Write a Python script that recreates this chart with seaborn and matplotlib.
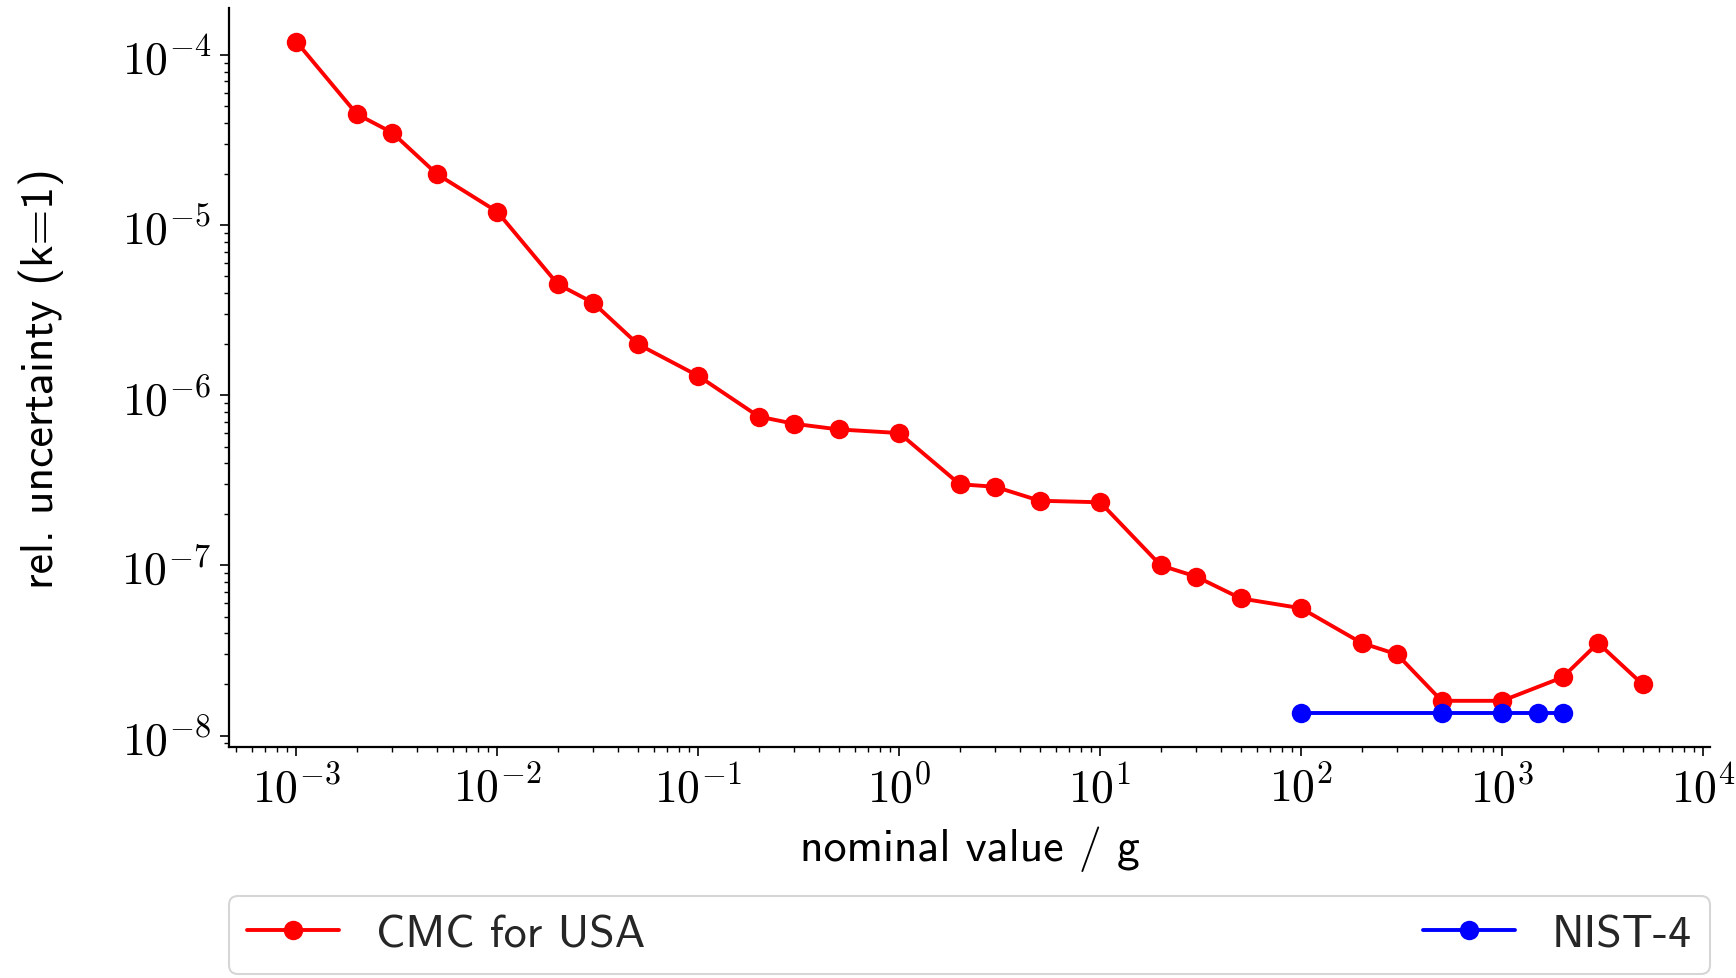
import matplotlib
matplotlib.use("Agg")
import matplotlib.pyplot as plt
import matplotlib.ticker as mticker
import seaborn as sns
import pandas as pd
import numpy as np

# --- data ---
cmc_mass = [1e-3, 2e-3, 3e-3, 5e-3, 1e-2, 2e-2, 3e-2, 5e-2, 0.1, 0.2, 0.3, 0.5,
            1, 2, 3, 5, 10, 20, 30, 50, 100, 200, 300, 500, 1000, 2000, 3000, 5000]
cmc_unc = [1.2e-4, 4.5e-5, 3.5e-5, 2.0e-5, 1.2e-5, 4.5e-6, 3.5e-6, 2.0e-6, 1.3e-6,
           7.5e-7, 6.8e-7, 6.3e-7, 6.0e-7, 3.0e-7, 2.9e-7, 2.4e-7, 2.35e-7, 1.0e-7,
           8.6e-8, 6.4e-8, 5.6e-8, 3.5e-8, 3.0e-8, 1.6e-8, 1.6e-8, 2.2e-8, 3.5e-8, 2.0e-8]
nist_mass = [100, 500, 1000, 1500, 2000]
nist_unc = [1.35e-8, 1.35e-8, 1.35e-8, 1.35e-8, 1.35e-8]
series_labels = ["CMC for USA", "NIST-4"]
x_label = "nominal value / g"
y_label = "rel. uncertainty (k=1)"

sns.set_theme(style="ticks")
plt.rcParams["font.family"] = ["cmss10", "DejaVu Sans"]
plt.rcParams["mathtext.fontset"] = "cm"
plt.rcParams["mathtext.default"] = "rm"

fig = plt.figure(figsize=(17.36, 9.79), dpi=100)
ax = fig.add_axes([0.1319, 0.236, 0.985 - 0.1319, 0.9908 - 0.236])

df_cmc = pd.DataFrame({"m": cmc_mass, "u": cmc_unc})
df_nist = pd.DataFrame({"m": nist_mass, "u": nist_unc})

sns.lineplot(data=df_cmc, x="m", y="u", ax=ax, color="red", marker="o",
             markersize=14, markeredgewidth=0, linewidth=2.8, label=series_labels[0])
sns.lineplot(data=df_nist, x="m", y="u", ax=ax, color="blue", marker="o",
             markersize=14, markeredgewidth=0, linewidth=2.8, label=series_labels[1])

ax.set_xscale("log")
ax.set_yscale("log")
ax.margins(0.05)


def pow_fmt(v, pos):
    if v <= 0:
        return ""
    e = np.log10(v)
    if abs(e - round(e)) > 1e-6:
        return ""
    return r"$10^{%d}$" % int(round(e))


ax.xaxis.set_major_formatter(mticker.FuncFormatter(pow_fmt))
ax.yaxis.set_major_formatter(mticker.FuncFormatter(pow_fmt))
ax.xaxis.set_minor_formatter(mticker.NullFormatter())
ax.yaxis.set_minor_formatter(mticker.NullFormatter())

for s in ["top", "right"]:
    ax.spines[s].set_visible(False)
for s in ["left", "bottom"]:
    ax.spines[s].set_color("black")
    ax.spines[s].set_linewidth(1.6)

ax.tick_params(axis="both", which="major", length=6.5, width=1.2, color="black",
               labelsize=33, labelcolor="black", pad=6)
ax.tick_params(axis="both", which="minor", length=3.5, width=1.0, color="black")

ax.set_xlabel(x_label, fontsize=33, color="black", labelpad=11)
ax.set_ylabel(y_label, fontsize=33, color="black", labelpad=41)

leg = ax.legend(loc="upper left", bbox_to_anchor=(0, -0.3016, 1, 0.1), mode="expand",
                ncol=2, fontsize=33, borderaxespad=0, frameon=True, fancybox=True,
                handlelength=2.0)
leg.get_frame().set_edgecolor("#cccccc")
leg.get_frame().set_linewidth(1.5)

fig.savefig("out.png", dpi=100)
